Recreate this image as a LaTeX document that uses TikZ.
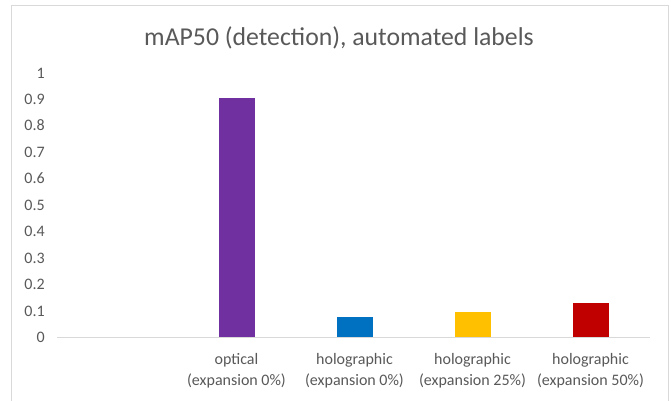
\documentclass[tikz,border=0pt]{standalone}
\usepackage{fontspec}
\setmainfont{Carlito}
\definecolor{txtgray}{HTML}{595959}
\definecolor{linegray}{HTML}{D9D9D9}
\definecolor{barpurple}{HTML}{7030A0}
\definecolor{barblue}{HTML}{0070C0}
\definecolor{baryellow}{HTML}{FFC000}
\definecolor{barred}{HTML}{C00000}
\begin{document}
\begin{tikzpicture}[x=0.75pt,y=-0.75pt,
  frame/.style={draw=linegray,line width=1.1pt},
  axisline/.style={draw=linegray,line width=1pt},
  ticklabel/.style={text=txtgray,font=\fontsize{12}{14}\selectfont,inner sep=0pt,anchor=base east},
  catlabel/.style={text=txtgray,font=\fontsize{12}{14}\selectfont,inner sep=0pt,anchor=base},
  titlestyle/.style={text=txtgray,font=\fontsize{19.3}{22}\selectfont,inner sep=0pt,anchor=base},
  barstyle/.style={draw=white,line width=0.5pt}]
\useasboundingbox (0,0) rectangle (671,400);
\fill[white] (0,0) rectangle (671,400);
\draw[frame] (11.5,410) -- (11.5,5.5) -- (668.5,5.5) -- (668.5,410);
\node[titlestyle] (title) at (339,45) {mAP50 (detection), automated labels};
\foreach \v/\t [count=\i] in {0/0,0.1/0.1,0.2/0.2,0.3/0.3,0.4/0.4,0.5/0.5,0.6/0.6,0.7/0.7,0.8/0.8,0.9/0.9,1/1}{
  \node[ticklabel] (tick\i) at (45,{337.5-264.5*\v+5}) {\t};
}
\coordinate (axL) at (57,337.5);
\coordinate (axR) at (650,337.5);
% bars
\fill[barpurple,barstyle] (218,337.5) rectangle (255,{337.5-264.5*0.909});
\fill[barblue,barstyle] (336,337.5) rectangle (373,{337.5-264.5*0.079});
\fill[baryellow,barstyle] (454,337.5) rectangle (491,{337.5-264.5*0.100});
\fill[barred,barstyle] (572,337.5) rectangle (609,{337.5-264.5*0.132});
\draw[axisline] (axL) -- (axR);
% category labels
\node[catlabel] (c1a) at (236.5,364) {optical};
\node[catlabel] (c1b) at (236.5,385) {(expansion 0\%)};
\node[catlabel] (c2a) at (354.5,364) {holographic};
\node[catlabel] (c2b) at (354.5,385) {(expansion 0\%)};
\node[catlabel] (c3a) at (472.5,364) {holographic};
\node[catlabel] (c3b) at (472.5,385) {(expansion 25\%)};
\node[catlabel] (c4a) at (590.5,364) {holographic};
\node[catlabel] (c4b) at (590.5,385) {(expansion 50\%)};
\end{tikzpicture}
\end{document}
